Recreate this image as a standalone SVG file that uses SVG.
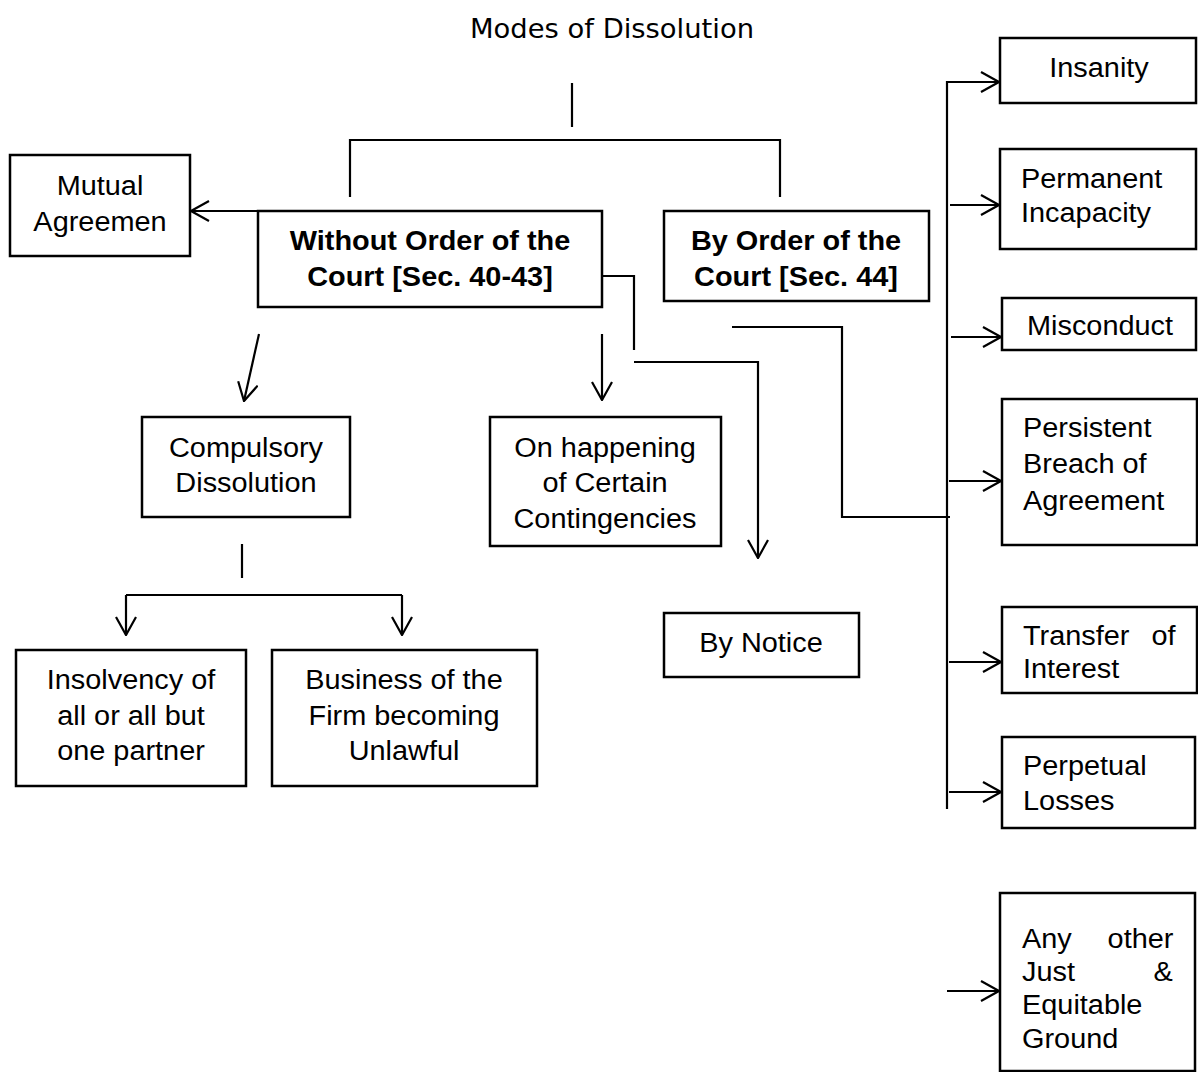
<svg xmlns="http://www.w3.org/2000/svg" width="1198" height="1072" viewBox="0 0 1198 1072">
<style>
.box{fill:#fff;stroke:#000;stroke-width:2.5}
.ln{fill:none;stroke:#000;stroke-width:2.2}
.t{font-family:"Liberation Sans",Arial,sans-serif;font-size:27px;fill:#000}
.c{text-anchor:middle}
.b{font-weight:bold}
.title{font-family:"DejaVu Sans",sans-serif;font-size:27px;fill:#000;text-anchor:middle}
</style>
<defs>
<marker id="ah" viewBox="0 0 20 22" refX="19" refY="11" markerWidth="20" markerHeight="22" markerUnits="userSpaceOnUse" orient="auto">
<path d="M1,1 L19,11 L1,21" fill="none" stroke="#000" stroke-width="2.2"/>
</marker>
</defs>
<rect width="1198" height="1072" fill="#fff"/>
<text class="title" x="612" y="38" textLength="284" lengthAdjust="spacingAndGlyphs">Modes of Dissolution</text>
<g id="connectors">
<path class="ln" d="M572,83 V127"/>
<path class="ln" d="M350,197 V140 H780 V197"/>
<path class="ln" d="M258,211 H191" marker-end="url(#ah)"/>
<path class="ln" d="M259,334 L244,401" marker-end="url(#ah)"/>
<path class="ln" d="M242,544 V578"/>
<path class="ln" d="M126,595 H402"/>
<path class="ln" d="M126,595 V635" marker-end="url(#ah)"/>
<path class="ln" d="M402,595 V635" marker-end="url(#ah)"/>
<path class="ln" d="M602,334 V400" marker-end="url(#ah)"/>
<path class="ln" d="M602,276 H634 V350"/>
<path class="ln" d="M634,362 H758 V558" marker-end="url(#ah)"/>
<path class="ln" d="M732,327 H842 V517 H950"/>
<path class="ln" d="M947,809 V82 H999" marker-end="url(#ah)"/>
<path class="ln" d="M950,205 H999" marker-end="url(#ah)"/>
<path class="ln" d="M951,337 H1001" marker-end="url(#ah)"/>
<path class="ln" d="M949,481 H1001" marker-end="url(#ah)"/>
<path class="ln" d="M949,662 H1001" marker-end="url(#ah)"/>
<path class="ln" d="M949,792 H1001" marker-end="url(#ah)"/>
<path class="ln" d="M947,991 H999" marker-end="url(#ah)"/>
</g>
<g id="mutual"><rect class="box" x="10" y="155" width="180" height="101"/>
<text class="t c" transform="translate(100,195) scale(1.07,1)">Mutual</text>
<text class="t c" transform="translate(100,231) scale(1.07,1)">Agreemen</text></g>
<g id="without"><rect class="box" x="258" y="211" width="344" height="96"/>
<text class="t c b" transform="translate(430,250) scale(1.07,1)">Without Order of the</text>
<text class="t c b" transform="translate(430,286) scale(1.07,1)">Court [Sec. 40-43]</text></g>
<g id="byorder"><rect class="box" x="664" y="211" width="265" height="90"/>
<text class="t c b" transform="translate(796,250) scale(1.07,1)">By Order of the</text>
<text class="t c b" transform="translate(796,286) scale(1.07,1)">Court [Sec. 44]</text></g>
<g id="insanity"><rect class="box" x="1000" y="38" width="196" height="65"/>
<text class="t c" transform="translate(1099,77) scale(1.07,1)">Insanity</text></g>
<g id="permanent"><rect class="box" x="1000" y="149" width="196" height="100"/>
<text class="t" transform="translate(1021,188) scale(1.07,1)">Permanent</text>
<text class="t" transform="translate(1021,222) scale(1.07,1)">Incapacity</text></g>
<g id="misconduct"><rect class="box" x="1002" y="298" width="194" height="52"/>
<text class="t c" transform="translate(1100,335) scale(1.07,1)">Misconduct</text></g>
<g id="persistent"><rect class="box" x="1002" y="399" width="195" height="146"/>
<text class="t" transform="translate(1023,437) scale(1.07,1)">Persistent</text>
<text class="t" transform="translate(1023,473) scale(1.07,1)">Breach of</text>
<text class="t" transform="translate(1023,510) scale(1.07,1)">Agreement</text></g>
<g id="transfer"><rect class="box" x="1002" y="607" width="195" height="86"/>
<text class="t" transform="translate(1023,645) scale(1.07,1)"><tspan x="0">Transfer</tspan><tspan x="120">of</tspan></text>
<text class="t" transform="translate(1023,678) scale(1.07,1)">Interest</text></g>
<g id="perpetual"><rect class="box" x="1002" y="737" width="193" height="91"/>
<text class="t" transform="translate(1023,775) scale(1.07,1)">Perpetual</text>
<text class="t" transform="translate(1023,810) scale(1.07,1)">Losses</text></g>
<g id="anyother"><rect class="box" x="1000" y="893" width="195" height="178"/>
<text class="t" transform="translate(1022,948) scale(1.07,1)"><tspan x="0">Any</tspan><tspan x="80">other</tspan></text>
<text class="t" transform="translate(1022,981) scale(1.07,1)"><tspan x="0">Just</tspan><tspan x="123">&amp;</tspan></text>
<text class="t" transform="translate(1022,1014) scale(1.07,1)">Equitable</text>
<text class="t" transform="translate(1022,1048) scale(1.07,1)">Ground</text></g>
<g id="compulsory"><rect class="box" x="142" y="417" width="208" height="100"/>
<text class="t c" transform="translate(246,457) scale(1.07,1)">Compulsory</text>
<text class="t c" transform="translate(246,492) scale(1.07,1)">Dissolution</text></g>
<g id="happening"><rect class="box" x="490" y="417" width="231" height="129"/>
<text class="t c" transform="translate(605,457) scale(1.07,1)">On happening</text>
<text class="t c" transform="translate(605,492) scale(1.07,1)">of Certain</text>
<text class="t c" transform="translate(605,528) scale(1.07,1)">Contingencies</text></g>
<g id="notice"><rect class="box" x="664" y="613" width="195" height="64"/>
<text class="t c" transform="translate(761,652) scale(1.07,1)">By Notice</text></g>
<g id="insolvency"><rect class="box" x="16" y="650" width="230" height="136"/>
<text class="t c" transform="translate(131,689) scale(1.07,1)">Insolvency of</text>
<text class="t c" transform="translate(131,725) scale(1.07,1)">all or all but</text>
<text class="t c" transform="translate(131,760) scale(1.07,1)">one partner</text></g>
<g id="business"><rect class="box" x="272" y="650" width="265" height="136"/>
<text class="t c" transform="translate(404,689) scale(1.07,1)">Business of the</text>
<text class="t c" transform="translate(404,725) scale(1.07,1)">Firm becoming</text>
<text class="t c" transform="translate(404,760) scale(1.07,1)">Unlawful</text></g>
</svg>
